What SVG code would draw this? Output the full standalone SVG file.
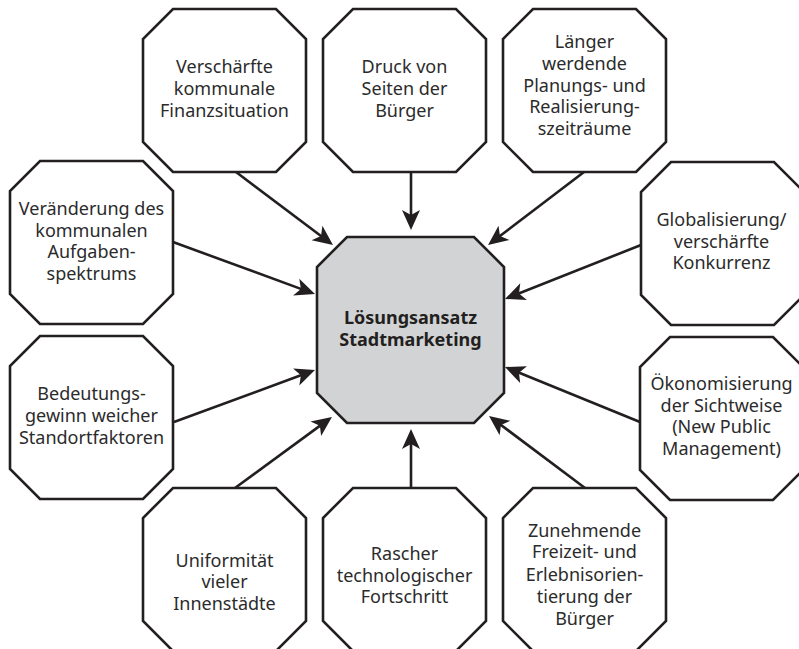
<svg xmlns="http://www.w3.org/2000/svg" width="799" height="649" viewBox="0 0 799 649">
<style>
.oct{fill:#ffffff;stroke:#231f20;stroke-width:2.6;stroke-linejoin:miter}
.ctr{fill:#d1d3d4;stroke:#231f20;stroke-width:2.6}
text{font-family:"Noto Sans","Open Sans","Liberation Sans",sans-serif;font-size:18px;fill:#2b2b2b;text-anchor:middle}
.b{font-weight:bold;fill:#231f20}
.con line{stroke:#231f20;stroke-width:2.6;marker-end:url(#ah)}
</style>
<defs>
<marker id="ah" markerUnits="userSpaceOnUse" viewBox="-12 -10 24 20" markerWidth="24" markerHeight="20" refX="0" refY="0" orient="auto">
<path d="M10,0 L-10,-9 L-5,0 L-10,9 Z" fill="#231f20"/>
</marker>
</defs>
<g class="con">
<line x1="236" y1="172" x2="325" y2="239"/>
<line x1="411" y1="172" x2="411" y2="220"/>
<line x1="584" y1="172" x2="496" y2="239"/>
<line x1="173" y1="242" x2="305.6" y2="290.6"/>
<line x1="641" y1="245" x2="514.3" y2="295.3"/>
<line x1="174" y1="422" x2="305.6" y2="373.5"/>
<line x1="640" y1="422" x2="514.3" y2="370.8"/>
<line x1="235" y1="488" x2="323.9" y2="422.9"/>
<line x1="411" y1="488" x2="411" y2="439"/>
<line x1="585" y1="488" x2="497" y2="422"/>
</g>
<g id="center">
<polygon class="ctr" points="347,237 474,237 504,267 504,393 474,423 347,423 317,393 317,267"/>
<text class="b" x="410.5" y="324">Lösungsansatz</text>
<text class="b" x="410.5" y="346">Stadtmarketing</text>
</g>
<g id="n1">
<polygon class="oct" points="173,9 276,9 306,39 306,142 276,172 173,172 143,142 143,39"/>
<text x="224.5" y="73">Verschärfte</text>
<text x="224.5" y="95">kommunale</text>
<text x="224.5" y="117">Finanzsituation</text>
</g>
<g id="n2">
<polygon class="oct" points="353,9 456,9 486,39 486,142 456,172 353,172 323,142 323,39"/>
<text x="404.5" y="73">Druck von</text>
<text x="404.5" y="95">Seiten der</text>
<text x="404.5" y="117">Bürger</text>
</g>
<g id="n3">
<polygon class="oct" points="533,9 636,9 666,39 666,142 636,172 533,172 503,142 503,39"/>
<text x="584.5" y="48">Länger</text>
<text x="584.5" y="70">werdende</text>
<text x="584.5" y="91.7">Planungs- und</text>
<text x="584.5" y="113.3">Realisierung-</text>
<text x="584.5" y="135">szeiträume</text>
</g>
<g id="n4">
<polygon class="oct" points="40,161 143,161 173,191 173,294 143,324 40,324 10,294 10,191"/>
<text x="91.5" y="215">Veränderung des</text>
<text x="91.5" y="236.5">kommunalen</text>
<text x="91.5" y="258">Aufgaben-</text>
<text x="91.5" y="279.5">spektrums</text>
</g>
<g id="n5">
<polygon class="oct" points="671,162 774,162 804,192 804,295 774,325 671,325 641,295 641,192"/>
<text x="721.5" y="226">Globalisierung/</text>
<text x="721.5" y="247.5">verschärfte</text>
<text x="721.5" y="269">Konkurrenz</text>
</g>
<g id="n6">
<polygon class="oct" points="40,336 143,336 173,366 173,469 143,499 40,499 10,469 10,366"/>
<text x="91.5" y="400">Bedeutungs-</text>
<text x="91.5" y="422">gewinn weicher</text>
<text x="91.5" y="444">Standortfaktoren</text>
</g>
<g id="n7">
<polygon class="oct" points="670,337 773,337 803,367 803,470 773,500 670,500 640,470 640,367"/>
<text x="721.5" y="390">Ökonomisierung</text>
<text x="721.5" y="411.7">der Sichtweise</text>
<text x="721.5" y="433.3">(New Public</text>
<text x="721.5" y="455">Management)</text>
</g>
<g id="n8">
<polygon class="oct" points="173,488 276,488 306,518 306,621 276,651 173,651 143,621 143,518"/>
<text x="224.5" y="566.7">Uniformität</text>
<text x="224.5" y="588.3">vieler</text>
<text x="224.5" y="610">Innenstädte</text>
</g>
<g id="n9">
<polygon class="oct" points="353,488 456,488 486,518 486,621 456,651 353,651 323,621 323,518"/>
<text x="404.5" y="560">Rascher</text>
<text x="404.5" y="581.7">technologischer</text>
<text x="404.5" y="603.3">Fortschritt</text>
</g>
<g id="n10">
<polygon class="oct" points="533,488 636,488 666,518 666,621 636,651 533,651 503,621 503,518"/>
<text x="584.5" y="536.7">Zunehmende</text>
<text x="584.5" y="558.3">Freizeit- und</text>
<text x="584.5" y="580.7">Erlebnisorien-</text>
<text x="584.5" y="603.3">tierung der</text>
<text x="584.5" y="625">Bürger</text>
</g>
</svg>
